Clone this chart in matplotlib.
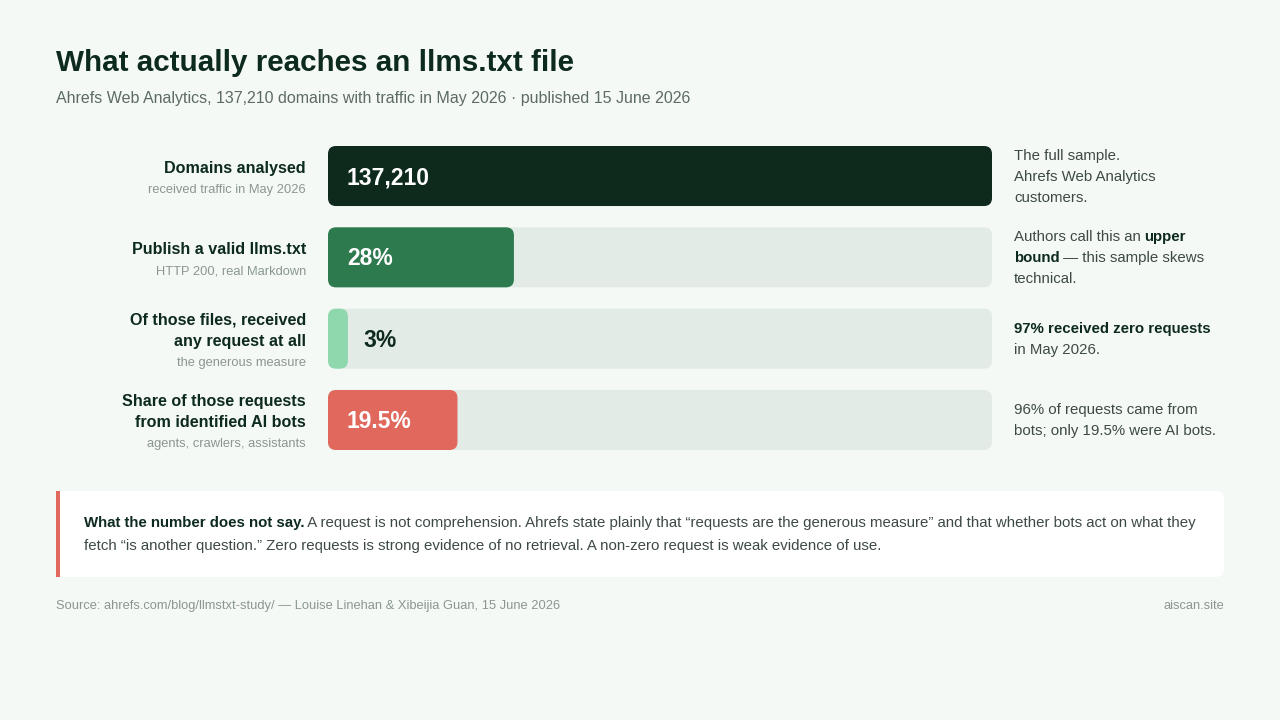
import matplotlib
matplotlib.use("Agg")
import matplotlib.pyplot as plt
from matplotlib.patches import FancyBboxPatch, Rectangle

plt.rcParams['font.family'] = ['Liberation Sans', 'DejaVu Sans']

# data
row_titles = [["Domains analysed"], ["Publish a valid llms.txt"],
              ["Of those files, received", "any request at all"],
              ["Share of those requests", "from identified AI bots"]]
row_subs = ["received traffic in May 2026", "HTTP 200, real Markdown",
            "the generous measure", "agents, crawlers, assistants"]
values = [100, 28, 3, 19.5]
value_labels = ["137,210", "28%", "3%", "19.5%"]
bar_colors = ["#0d2a1c", "#2e7a4f", "#8fd8ae", "#e0685c"]
label_colors = ["white", "white", "#0d2a1c", "white"]
# right-hand notes: list of lines, each line a list of (text, bold)
notes = [
    [[("The full sample.", False)], [("Ahrefs Web Analytics", False)], [("customers.", False)]],
    [[("Authors call this an ", False), ("upper", True)],
     [("bound", True), (" — this sample skews", False)], [("technical.", False)]],
    [[("97% received zero requests", True)], [("in May 2026.", False)]],
    [[("96% of requests came from", False)], [("bots; only 19.5% were AI bots.", False)]],
]
callout = [
    [("What the number does not say.", True),
     (" A request is not comprehension. Ahrefs state plainly that “requests are the generous measure” and that whether bots act on what they", False)],
    [("fetch “is another question.” Zero requests is strong evidence of no retrieval. A non-zero request is weak evidence of use.", False)],
]

BG = "#f5f9f6"
DARK = "#0d2a1e"
GREY = "#5c6b63"
LIGHT = "#8a978f"
BODY = "#3d4a43"
TRACK = "#e3ebe6"

W, H = 1280, 720
fig = plt.figure(figsize=(12.8, 7.2), dpi=100, facecolor=BG)

# overlay axes in pixel coordinates for text and panels
ov = fig.add_axes([0, 0, 1, 1])
ov.set_xlim(0, W)
ov.set_ylim(H, 0)
ov.axis("off")
ov.set_zorder(0)

ov.text(56, 63, "What actually reaches an llms.txt file", fontsize=21.3, fontweight="bold",
        color=DARK, va="center", ha="left")
ov.text(56, 98.5, "Ahrefs Web Analytics, 137,210 domains with traffic in May 2026 · published 15 June 2026",
        fontsize=11.5, color=GREY, va="center", ha="left")

# bar axes
bx0, bx1, by0, by1 = 328, 992, 146, 450
ax = fig.add_axes([bx0 / W, 1 - by1 / H, (bx1 - bx0) / W, (by1 - by0) / H])
ax.set_zorder(1)
ax.patch.set_alpha(0)
half = 0.369
ax.set_xlim(0, 100)
ax.set_ylim(len(values) - 1 + half, -half)
ax.axis("off")
px_x = 100 / (bx1 - bx0)
px_y = (len(values) - 1 + 2 * half) / (by1 - by0)
r = 8 * px_x
aspect = px_y / px_x

renderer = fig.canvas.get_renderer()


def runs(axis, x, y, parts, size, color, bold_color):
    for txt, bold in parts:
        t = axis.text(x, y, txt, fontsize=size, fontweight="bold" if bold else "normal",
                      color=bold_color if bold else color, va="center", ha="left")
        bb = t.get_window_extent(renderer=renderer)
        x += bb.width * W / fig.bbox.width - 1


for i, v in enumerate(values):
    ax.add_patch(FancyBboxPatch((0, i - half), 100, 2 * half,
                                boxstyle=f"round,pad=0,rounding_size={r}",
                                mutation_aspect=aspect, fc=TRACK, ec="none"))
    ax.add_patch(FancyBboxPatch((0, i - half), v, 2 * half,
                                boxstyle=f"round,pad=0,rounding_size={r}",
                                mutation_aspect=aspect, fc=bar_colors[i], ec="none"))
    lx = 19 * px_x if v * (bx1 - bx0) / 100 > 60 else v + 16 * px_x
    ax.text(lx, i + 1.5 * px_y, value_labels[i], fontsize=16.5, fontweight="bold",
            color=label_colors[i], va="center", ha="left")

    yc = by0 + (i + half) / px_y + 1
    lines = row_titles[i] + [row_subs[i]]
    n = len(lines)
    for k, txt in enumerate(lines):
        y = yc + 2 + (k - (n - 1) / 2) * 21.5
        if k < n - 1:
            ov.text(306, y, txt, fontsize=11.6, fontweight="bold", color=DARK,
                    ha="right", va="center")
        else:
            ov.text(306, y, txt, fontsize=9.3, color=LIGHT, ha="right", va="center")

    nl = notes[i]
    y0 = yc - (len(nl) - 1) * 21 / 2
    for k, line in enumerate(nl):
        runs(ov, 1014, y0 + k * 21, line, 10.8, BODY, DARK)

# callout panel
ov.add_patch(FancyBboxPatch((56, 491), 1168, 86, boxstyle="round,pad=0,rounding_size=8",
                            fc="white", ec="none"))
ov.add_patch(Rectangle((56, 491), 4, 86, fc="#e0685c", ec="none"))
for k, line in enumerate(callout):
    runs(ov, 84, 523 + k * 23, line, 10.8, BODY, DARK)

ov.text(56, 606, "Source: ahrefs.com/blog/llmstxt-study/ — Louise Linehan & Xibeijia Guan, 15 June 2026",
        fontsize=9.3, color=LIGHT, va="center", ha="left")
ov.text(1224, 606, "aiscan.site", fontsize=9.3, color=LIGHT, va="center", ha="right")

fig.savefig("out.png", dpi=100, facecolor=BG)
